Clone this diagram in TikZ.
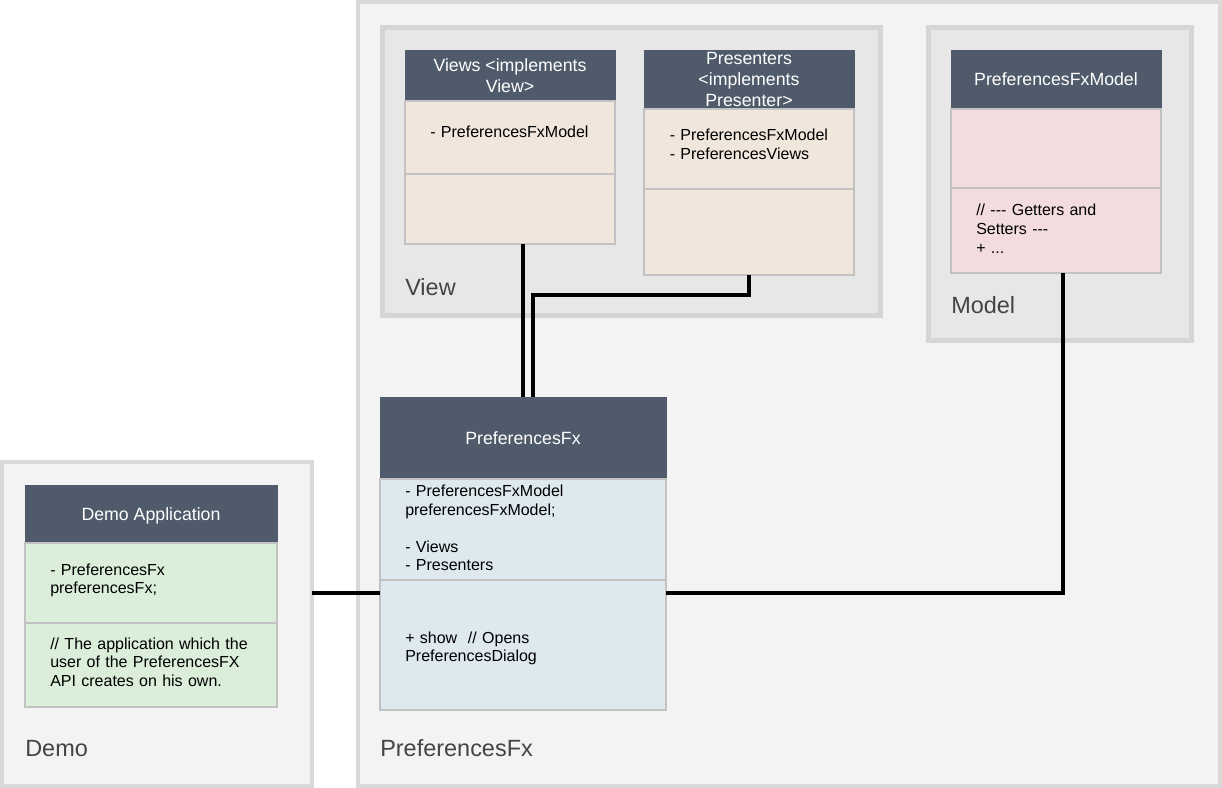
\documentclass[tikz,border=0pt]{standalone}
\usepackage{fontspec}
\setmainfont{Liberation Sans}
\usetikzlibrary{positioning}
\definecolor{outerfill}{HTML}{F3F3F3}
\definecolor{outerline}{HTML}{D9D9D9}
\definecolor{innerfill}{HTML}{E7E7E7}
\definecolor{innerline}{HTML}{D5D5D5}
\definecolor{hdrcol}{HTML}{4F5B6A}
\definecolor{boxline}{HTML}{C2C2C2}
\definecolor{viewcol}{HTML}{F0E6DC}
\definecolor{modelcol}{HTML}{F2DCDF}
\definecolor{prefcol}{HTML}{DDE9EF}
\definecolor{democol}{HTML}{DAEEDA}
\definecolor{labelcol}{HTML}{444444}

\begin{document}
\begin{tikzpicture}[x=0.75pt, y=-0.75pt,
  container/.style={draw=outerline, fill=outerfill, line width=3pt, rectangle, anchor=north west, inner sep=0, outer sep=0},
  package/.style={draw=innerline, fill=innerfill, line width=3.75pt, rectangle, anchor=north west, inner sep=0, outer sep=0},
  hdr/.style={draw=hdrcol, fill=hdrcol, text=white, rectangle, anchor=north west, inner sep=0, outer sep=0, align=center, text depth=0pt, font=\fontsize{13.3}{15.5}\selectfont},
  sect/.style={draw=boxline, line width=1.5pt, rectangle, inner sep=0, outer sep=0},
  body/.style={anchor=base west, inner sep=0, text width=150pt, align=left, font=\fontsize{12}{13.9}\selectfont},
  pkglabel/.style={anchor=base west, inner sep=0, text=labelcol, font=\fontsize{17.6}{20}\selectfont},
  link/.style={line width=2.3pt, black}]
\useasboundingbox (0,0) rectangle (1222,788);

% Containers
\node[container, minimum width=646.5pt, minimum height=588pt] (prefC) at (358,2) {};
\node[container, minimum width=232.5pt, minimum height=243pt] (demoC) at (2,462) {};
\node[package, minimum width=373.5pt, minimum height=216pt] (viewC) at (382.5,27.5) {};
\node[package, minimum width=197.25pt, minimum height=234.75pt] (modelC) at (928.5,27.5) {};

\node[pkglabel] (viewL) at (405,296) {View};
\node[pkglabel] (modelL) at (951,313.3) {Model};
\node[pkglabel] (demoL) at (25,756.7) {Demo};
\node[pkglabel] (prefL) at (380,756.7) {PreferencesFx};

% Views
\node[hdr, minimum width=157.5pt, minimum height=38.25pt] (vwH) at (405,50) {Views <implements\\View>};
\node[sect, fill=viewcol, minimum width=157.5pt, minimum height=54.75pt, below=0pt of vwH] (vwA) {};
\node[sect, fill=viewcol, minimum width=157.5pt, minimum height=52.5pt, below=0pt of vwA] (vwB) {};
\node[body] (vwT) at (430,137.5) {- PreferencesFxModel};

% Presenters
\node[hdr, minimum width=157.5pt, minimum height=44.25pt] (prH) at (644,50) {Presenters\\<implements\\Presenter>};
\node[sect, fill=viewcol, minimum width=157.5pt, minimum height=60pt, below=0pt of prH] (prA) {};
\node[sect, fill=viewcol, minimum width=157.5pt, minimum height=64.5pt, below=0pt of prA] (prB) {};
\node[body] (prT) at (669.5,141) {- PreferencesFxModel\\- PreferencesViews};

% PreferencesFxModel
\node[hdr, minimum width=157.5pt, minimum height=44.25pt] (mdH) at (951,50) {PreferencesFxModel};
\node[sect, fill=modelcol, minimum width=157.5pt, minimum height=59.25pt, below=0pt of mdH] (mdA) {};
\node[sect, fill=modelcol, minimum width=157.5pt, minimum height=63.75pt, below=0pt of mdA] (mdB) {};
\node[body] (mdT) at (976,216) {// -{}-{}- Getters and\\Setters -{}-{}-\\+ ...};

% PreferencesFx
\node[hdr, minimum width=214.5pt, minimum height=61.5pt] (pfH) at (380,397) {PreferencesFx};
\node[sect, fill=prefcol, minimum width=214.5pt, minimum height=75.75pt, below=0pt of pfH] (pfA) {};
\node[sect, fill=prefcol, minimum width=214.5pt, minimum height=97.5pt, below=0pt of pfA] (pfB) {};
\node[body] (pfT1) at (405,496.7) {- PreferencesFxModel\\preferencesFxModel;\\[13.9pt]- Views\\- Presenters};
\node[body] (pfT2) at (405,643) {+ show~ // Opens\\PreferencesDialog};

% Demo Application
\node[hdr, minimum width=189pt, minimum height=43.5pt] (dmH) at (25,485) {Demo Application};
\node[sect, fill=democol, minimum width=189pt, minimum height=60pt, below=0pt of dmH] (dmA) {};
\node[sect, fill=democol, minimum width=189pt, minimum height=63pt, below=0pt of dmA] (dmB) {};
\node[body] (dmT1) at (50,575) {- PreferencesFx\\preferencesFx;};
\node[body] (dmT2) at (50,649) {// The application which the\\user of the PreferencesFX\\API creates on his own.};

% Links
\draw[link] (pfH.north) -- (pfH.north |- vwB.south);
\draw[link] (prB.south) -- ++(0,20) -| ([xshift=7.5pt]pfH.north);
\draw[link] ([xshift=5.25pt]mdB.south) |- ([yshift=-9.75pt]pfB.north east);
\coordinate (dmLink) at ([yshift=-9.75pt]pfB.north west);
\draw[link] (dmLink) -- (dmLink -| demoC.east);
\end{tikzpicture}
\end{document}
